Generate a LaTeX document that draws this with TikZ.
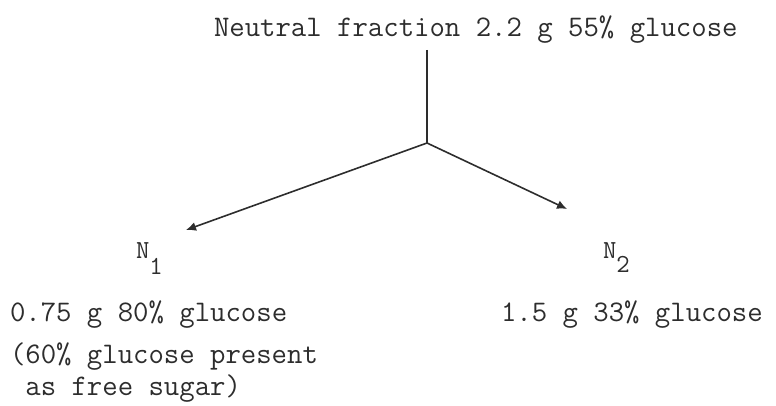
\documentclass[tikz,border=0pt]{standalone}
\usetikzlibrary{arrows.meta}
\definecolor{ink}{RGB}{45,45,45}
\begin{document}
\begin{tikzpicture}[x=1pt,y=1pt,
  txt/.style={inner sep=0pt,outer sep=0pt,anchor=base west,text=ink,
    font=\fontsize{29.9}{36}\selectfont\ttfamily},
  lbl/.style={inner sep=0pt,outer sep=0pt,anchor=base west,text=ink,
    font=\fontsize{26}{30}\selectfont\ttfamily},
  conn/.style={draw=ink,line width=1.6pt},
  arr/.style={conn,-{Latex[length=10pt,width=9pt]}}]
\useasboundingbox (0,0) rectangle (776,405);
\node[txt] (top) at (214,368) {Neutral fraction 2.2 g 55\% glucose};
\coordinate (stem) at (427,355);
\coordinate (junc) at (427,262);
\coordinate (tipA) at (186,175);
\coordinate (tipB) at (567,196);
\draw[conn] (stem) -- (junc);
\draw[arr] (junc) -- (tipA);
\draw[arr] (junc) -- (tipB);
\node[lbl] (n1) at (136,147) {N\raisebox{-16pt}{1}};
\node[lbl] (n2) at (603,147) {N\raisebox{-14pt}{2}};
\node[txt] (a1) at (10,84) {0.75 g 80\% glucose};
\node[txt] (a2) at (10,42) {(60\% glucose present};
\node[txt] (a3) at (10,10) {\ as free sugar)};
\node[txt] (b1) at (501,84) {1.5 g 33\% glucose};
\end{tikzpicture}
\end{document}
